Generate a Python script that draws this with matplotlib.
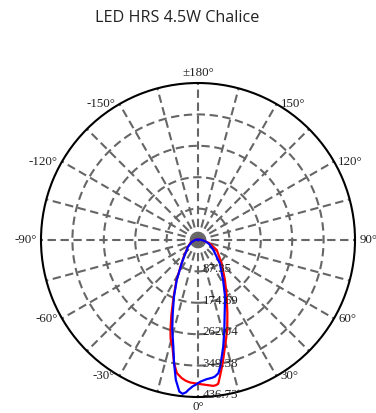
import numpy as np
import matplotlib
matplotlib.use("Agg")
import matplotlib.pyplot as plt

title = "LED HRS 4.5W Chalice"
r_max = 436.73
ring_values = [87.35, 174.69, 262.04, 349.38, 436.73]
ring_labels = ["87.35", "174.69", "262.04", "349.38", "436.73"]
tick_angles = [0, 30, 60, 90, 120, 150, 180, -150, -120, -90, -60, -30]
tick_labels = ["0°", "30°", "60°", "90°", "120°", "150°", "±180°", "-150°", "-120°", "-90°", "-60°", "-30°"]

blue_angle = [-180, -120, -90, -70, -55, -48, -40, -35, -28, -23, -19, -16, -13, -11, -9, -7,
              -5.7, -4.5, -3.7, -2, -1, 1, 3.5, 6, 7, 8.7, 10, 11.5, 13.3, 16.3, 20, 25.5, 32, 43,
              57, 70, 79, 90, 120, 180]
blue_value = [0, 3, 8, 20, 35, 42, 60, 79, 126, 171, 216, 260, 305, 349, 394, 425,
              430, 425, 418, 407, 403, 394, 388, 385, 383, 375, 357, 331, 305, 261, 217, 175, 132, 89,
              51, 33, 22, 10, 3, 0]

red_angle = [-180, -120, -90, -70, -55, -48, -40, -35, -28, -23, -19.5, -17, -15.5, -13.5, -11, -9,
             -6.7, -5, -3.2, 0, 3.4, 6, 7, 8, 9.1, 11.3, 14.2, 18, 21.8, 26.8, 34, 45.5,
             62, 75, 90, 120, 180]
red_value = [0, 3, 8, 22, 36, 43, 62, 80, 128, 175, 222, 262, 285, 305, 349, 375,
             387, 393, 397, 400, 404, 408, 407, 404, 385, 350, 306, 263, 220, 177, 134, 92,
             59, 32, 10, 3, 0]

fig = plt.figure(figsize=(3.76, 4.13), dpi=100)
fig.text(0.47, 0.956, title, ha="center", va="center", fontsize=11.6,
         family="Open Sans", color="#222222")

ax = fig.add_axes([41/376, 16/413, 314/376, 314/413], projection="polar")
ax.set_theta_zero_location("S")
ax.set_theta_direction(1)
ax.set_ylim(0, r_max)

grid_kw = dict(color="#666666", lw=1.5, ls=(0, (4, 2.2)), zorder=1)
for a in range(0, 360, 15):
    ax.plot([np.deg2rad(a), np.deg2rad(a)], [0, r_max], **grid_kw)
th = np.linspace(0, 2*np.pi, 400)
for rv in ring_values[:-1]:
    ax.plot(th, np.full_like(th, rv), **grid_kw)
ax.grid(False)
ax.set_xticks([])
ax.set_yticks([])
ax.spines["polar"].set_color("black")
ax.spines["polar"].set_linewidth(1.5)

ax.plot(np.deg2rad(red_angle), red_value, color="#ff0000", lw=1.6, zorder=3)
ax.plot(np.deg2rad(blue_angle), blue_value, color="#0000ff", lw=1.6, zorder=4)

for rv, lab in zip(ring_values, ring_labels):
    ax.annotate(lab, xy=(0, rv), xytext=(3.5, 1.5), textcoords="offset points",
                ha="left", va="center", fontsize=9.4, family="Liberation Serif",
                color="#222222", zorder=5, annotation_clip=False)

for a, lab in zip(tick_angles, tick_labels):
    rad = np.deg2rad(a)
    s = np.sin(rad)
    c = np.cos(rad)
    if abs(s) < 1e-6:
        ha = "center"
        va = "top" if c > 0 else "bottom"
        off = (0, -3) if c > 0 else (0, 3)
    else:
        ha = "left" if s > 0 else "right"
        va = "center"
        off = (3 if s > 0 else -3, 0)
    ax.annotate(lab, xy=(rad, r_max), xytext=off, textcoords="offset points",
                ha=ha, va=va, fontsize=9.4, family="Liberation Serif",
                color="#222222", annotation_clip=False)

fig.savefig("out.png", dpi=100)
